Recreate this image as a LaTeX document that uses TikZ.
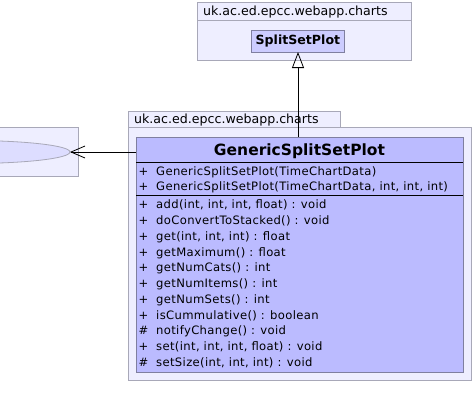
\documentclass[tikz,border=0pt]{standalone}
\usepackage{fontspec}
\setmainfont{DejaVu Sans}
\newfontfamily\memberfont[LetterSpace=3]{DejaVu Sans}
\usetikzlibrary{arrows.meta,shapes.geometric}
\definecolor{pkgfill}{HTML}{EEEEFF}
\definecolor{pkgline}{HTML}{A8A8B8}
\definecolor{clsfill}{HTML}{BBBBFF}
\definecolor{clsline}{HTML}{7F7FA0}
\definecolor{smallfill}{HTML}{CCCCFF}
\definecolor{ellfill}{HTML}{DDDDFF}
\tikzset{
  pkg/.style={draw=pkgline, fill=pkgfill, line width=0.8pt, anchor=north west, inner sep=0pt},
  cls/.style={draw=clsline, fill=clsfill, line width=0.8pt, anchor=north west, inner sep=0pt},
  pkgname/.style={anchor=base west, inner sep=0pt, font=\fontsize{12.6}{14}\selectfont},
  member/.style={anchor=base west, inner sep=0pt, font=\memberfont\fontsize{11.6}{13}\selectfont},
  vis/.style={anchor=base, inner sep=0pt, font=\fontsize{11.6}{13}\selectfont},
  sep/.style={line width=0.8pt, black},
}
\begin{document}
\begin{tikzpicture}[x=1pt,y=-1pt]
\useasboundingbox (0,0) rectangle (474,418);
% top package
\node[pkg, minimum width=214pt, minimum height=58pt] (toppkg) at (197,2) {};
\draw[pkgline, line width=0.8pt] (197,20) -- (411,20);
\node[pkgname] (toppkgname) at (203,15.5) {uk.ac.ed.epcc.webapp.charts};
\node[cls, fill=smallfill, minimum width=93pt, minimum height=22pt,
  font=\fontsize{12.6}{14}\selectfont\bfseries] (ssp) at (251,30) {SplitSetPlot};
% left package
\begin{scope}
\clip (0,0) rectangle (474,418);
\node[pkg, minimum width=83pt, minimum height=49pt] (leftpkg) at (-5,127) {};
\node[draw=pkgline, fill=ellfill, line width=0.8pt, ellipse, minimum width=200pt, minimum height=23pt, inner sep=0pt] (ell) at (-30,152) {};
\end{scope}
% main package
\node[pkg, minimum width=212pt, minimum height=16pt] (maintab) at (128,111) {};
\node[pkgname] (mainpkgname) at (134,123.5) {uk.ac.ed.epcc.webapp.charts};
\node[pkg, minimum width=343pt, minimum height=253pt] (mainpkg) at (128,127) {};
% class
\node[cls, minimum width=327pt, minimum height=235pt] (gssp) at (136,137) {};
\node[anchor=base, inner sep=0pt, font=\fontsize{15.5}{17}\selectfont\bfseries] (title) at (299.5,155) {GenericSplitSetPlot};
\draw[sep] (136,162) -- (463,162);
\draw[sep] (136,195) -- (463,195);
\foreach \v/\t/\y [count=\i] in {
  +/GenericSplitSetPlot(TimeChartData)/172,
  +/{GenericSplitSetPlot(TimeChartData, int, int, int)}/187,
  +/{add(int, int, int, float) : void}/205,
  +/doConvertToStacked() : void/220.75,
  +/{get(int, int, int) : float}/236.5,
  +/getMaximum() : float/252.25,
  +/getNumCats() : int/268,
  +/getNumItems() : int/283.75,
  +/getNumSets() : int/299.5,
  +/isCummulative() : boolean/315.25,
  \#/notifyChange() : void/331,
  +/{set(int, int, int, float) : void}/346.75,
  \#/{setSize(int, int, int) : void}/362.5} {
  \node[vis] (v\i) at (143.5,\y+3.8) {\v};
  \node[member] (m\i) at (156,\y+3.8) {\t};
}
% connectors
\coordinate (gtop) at (298,137);
\coordinate (sbot) at (298,52);
\draw[line width=0.8pt, -{Triangle[open, length=16pt, width=12pt]}] (gtop) -- (sbot);
\coordinate (gleft) at (136,152);
\coordinate (etip) at (70,152);
\draw[line width=0.8pt, -{Straight Barb[length=14pt, width=12pt]}] (gleft) -- (etip);
\end{tikzpicture}
\end{document}
